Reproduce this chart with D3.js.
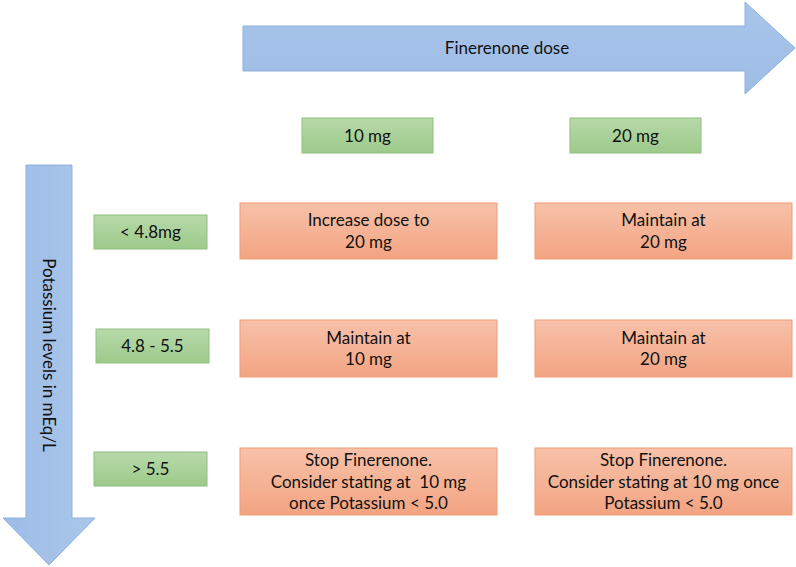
<!DOCTYPE html>
<html>
<head>
<meta charset="utf-8">
<script src="https://cdn.jsdelivr.net/npm/d3@7"></script>
<style>
  body { margin: 0; background: #fff; }
  text { font-family: Lato, "Open Sans", sans-serif; fill: #111; }
</style>
</head>
<body>
<script>
// potassium rows and dose columns
var rowLabels = ["< 4.8mg", "4.8 - 5.5", "> 5.5"]
var colLabels = ["10 mg", "20 mg"]
var cells = [
  [["Increase dose to", "20 mg"], ["Maintain at", "20 mg"]],
  [["Maintain at", "10 mg"], ["Maintain at", "20 mg"]],
  [["Stop Finerenone.", "Consider stating at  10 mg", "once Potassium < 5.0"],
   ["Stop Finerenone.", "Consider stating at 10 mg once", "Potassium < 5.0"]]
]
var xTitle = "Finerenone dose"
var yTitle = "Potassium levels in mEq/L"

var fs = '17px'

var svg = d3.select('body')
  .append('svg')
  .attr('width', 796)
  .attr('height', 567)

var defs = svg.append('defs')
function grad(id, c1, c2, horiz) {
  var g = defs.append('linearGradient').attr('id', id)
    .attr('x1', 0).attr('y1', 0)
    .attr('x2', horiz ? 1 : 0).attr('y2', horiz ? 0 : 1)
  g.append('stop').attr('offset', '0%').attr('stop-color', c1)
  g.append('stop').attr('offset', '100%').attr('stop-color', c2)
}
grad('gGreen', '#b7d9aa', '#9dca8a')
grad('gOrange', '#f7c1a9', '#f3a482')
grad('gBlueH', '#a8c5ea', '#9ebde6')
grad('gBlueV', '#9dbce6', '#aac6ea', true)

// arrows
svg.append('path')
  .attr('d', 'M243,26 L745,26 L745,2 L795,48 L745,94 L745,71 L243,71 Z')
  .attr('fill', 'url(#gBlueH)')
  .attr('stroke', '#8fb1de')
  .attr('stroke-width', 1)
svg.append('text')
  .attr('x', 507).attr('y', 54)
  .attr('text-anchor', 'middle')
  .style('font-size', fs)
  .text(xTitle)

svg.append('path')
  .attr('d', 'M26,165 L72,165 L72,518 L95,518 L49,565 L3,518 L26,518 Z')
  .attr('fill', 'url(#gBlueV)')
  .attr('stroke', '#8fb1de')
  .attr('stroke-width', 1)
svg.append('text')
  .attr('transform', 'translate(43,355) rotate(90)')
  .attr('text-anchor', 'middle')
  .style('font-size', fs)
  .text(yTitle)

// scales for the grid
var xScale = d3.scaleOrdinal().domain(colLabels).range([240, 535])
var yScale = d3.scaleOrdinal().domain(rowLabels).range([203, 320, 448])
var rowH = [56, 57, 67]
var cellW = 257

// column headers
var colX = d3.scaleOrdinal().domain(colLabels).range([302, 570])
var colHead = svg.selectAll('.colHead')
  .data(colLabels)
  .enter()
  .append('g')
  .attr('class', 'colHead')
colHead.append('rect')
  .attr('x', d => colX(d))
  .attr('y', 118)
  .attr('width', 131)
  .attr('height', 35)
  .attr('fill', 'url(#gGreen)')
  .attr('stroke', '#8fbf7e')
colHead.append('text')
  .attr('x', d => colX(d) + 65.5)
  .attr('y', 142)
  .attr('text-anchor', 'middle')
  .style('font-size', fs)
  .text(d => d)

// row headers
var rowX = [94, 96, 94]
var rowY = [215, 329, 452]
var rowHead = svg.selectAll('.rowHead')
  .data(rowLabels)
  .enter()
  .append('g')
  .attr('class', 'rowHead')
rowHead.append('rect')
  .attr('x', (d, i) => rowX[i])
  .attr('y', (d, i) => rowY[i])
  .attr('width', 113)
  .attr('height', 34)
  .attr('fill', 'url(#gGreen)')
  .attr('stroke', '#8fbf7e')
rowHead.append('text')
  .attr('x', (d, i) => rowX[i] + 56.5)
  .attr('y', (d, i) => rowY[i] + 23)
  .attr('text-anchor', 'middle')
  .style('font-size', fs)
  .text(d => d)

// cells
var cellData = []
cells.forEach((row, r) => {
  row.forEach((lines, c) => {
    cellData.push({ row: rowLabels[r], col: colLabels[c], r: r, lines: lines })
  })
})

var cell = svg.selectAll('.cell')
  .data(cellData)
  .enter()
  .append('g')
  .attr('class', 'cell')
cell.append('rect')
  .attr('x', d => xScale(d.col))
  .attr('y', d => yScale(d.row))
  .attr('width', cellW)
  .attr('height', d => rowH[d.r])
  .attr('fill', 'url(#gOrange)')
  .attr('stroke', '#f09c76')
cell.each(function(d) {
  var n = d.lines.length
  var lh = 21.5
  var cy = yScale(d.row) + rowH[d.r] / 2
  var y0 = cy - (n - 1) * lh / 2 + 6
  d3.select(this).selectAll('text')
    .data(d.lines)
    .enter()
    .append('text')
    .attr('x', xScale(d.col) + cellW / 2)
    .attr('y', (t, i) => y0 + i * lh)
    .attr('text-anchor', 'middle')
    .style('font-size', fs)
    .style('white-space', 'pre')
    .text(t => t)
})
</script>
</body>
</html>
